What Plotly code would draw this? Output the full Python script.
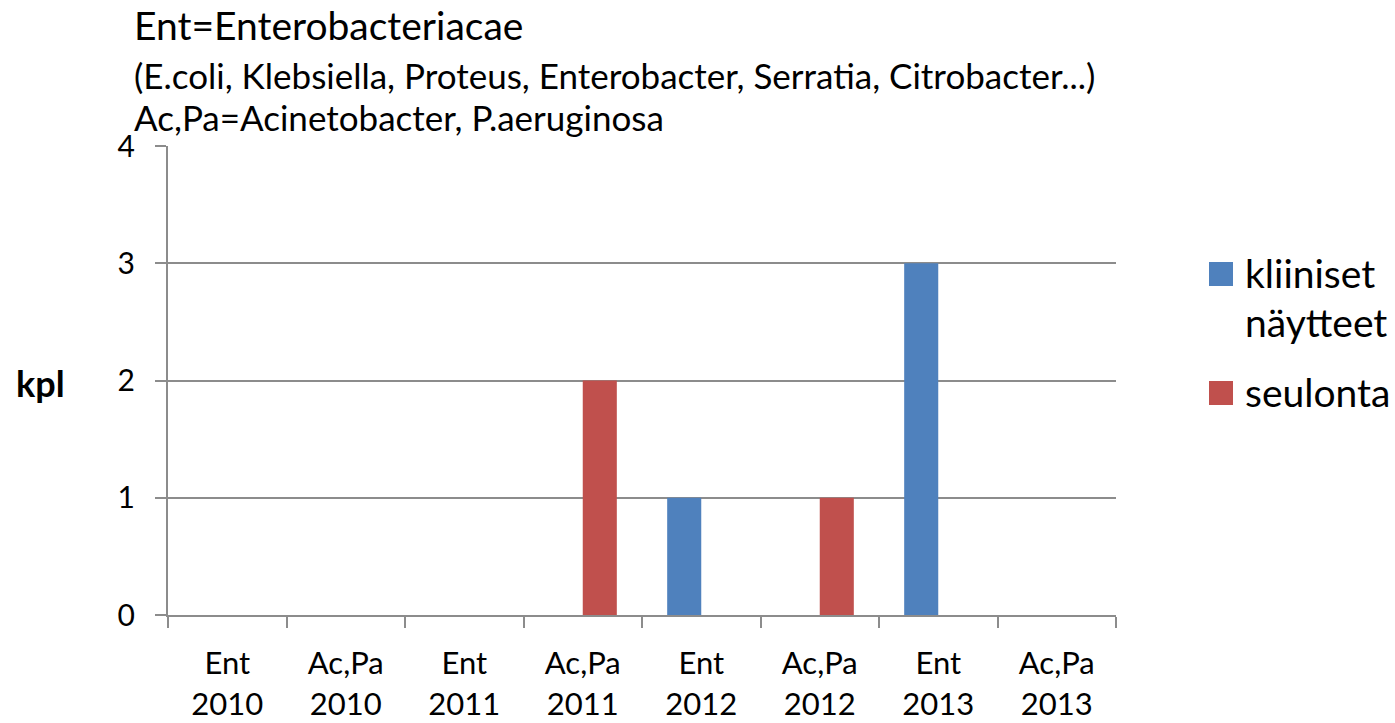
import plotly.graph_objects as go

# Category labels (two-line: group / year)
categories = [
    "Ent<br>2010", "Ac,Pa<br>2010",
    "Ent<br>2011", "Ac,Pa<br>2011",
    "Ent<br>2012", "Ac,Pa<br>2012",
    "Ent<br>2013", "Ac,Pa<br>2013",
]
kliiniset = [0, 0, 0, 0, 1, 0, 3, 0]   # kliiniset näytteet
seulonta = [0, 0, 0, 2, 0, 1, 0, 0]    # seulonta
y_ticks = [0, 1, 2, 3, 4]

BLUE = "#4F81BD"
RED = "#C0504D"
GRID = "#8C8C8C"
FONT = "Lato, 'Open Sans', sans-serif"

W, H = 1395, 723
L, R, T, B = 168, 279, 146, 108
PW, PH = W - L - R, H - T - B


def px_x(px):
    return (px - L) / PW


def px_y(py):
    return (H - B - py) / PH


fig = go.Figure()
fig.add_trace(go.Bar(x=categories, y=kliiniset, name="kliiniset näytteet",
                     marker=dict(color=BLUE, line=dict(width=0))))
fig.add_trace(go.Bar(x=categories, y=seulonta, name="seulonta",
                     marker=dict(color=RED, line=dict(width=0))))

fig.update_layout(
    width=W, height=H,
    margin=dict(l=L, r=R, t=T, b=B, pad=0, autoexpand=False),
    paper_bgcolor="white", plot_bgcolor="white",
    barmode="group", bargap=0.425, bargroupgap=0,
    showlegend=False,
    font=dict(family=FONT, color="black", size=31),
)

fig.update_xaxes(
    type="category", tickson="boundaries", automargin=False,
    showgrid=False, showline=True, linecolor=GRID, linewidth=2,
    ticks="outside", ticklen=11, tickwidth=2, tickcolor=GRID,
    tickfont=dict(size=31, family=FONT), ticklabelstandoff=20,
    range=[-0.5, 7.5],
)
fig.update_yaxes(
    range=[0, 4], tickvals=y_ticks, automargin=False,
    showgrid=True, gridcolor=GRID, gridwidth=2,
    showline=True, linecolor=GRID, linewidth=2,
    zeroline=False,
    ticks="outside", ticklen=11, tickwidth=2, tickcolor=GRID,
    tickfont=dict(size=30, family=FONT), ticklabelstandoff=14,
)

annotations = [
    dict(text="Ent=Enterobacteriacae", x=px_x(132), y=px_y(25), font=dict(size=39)),
    dict(text="(E.coli, Klebsiella, Proteus, Enterobacter, Serratia, Citrobacter...)",
         x=px_x(132), y=px_y(75), font=dict(size=35)),
    dict(text="Ac,Pa=Acinetobacter, P.aeruginosa", x=px_x(132), y=px_y(117), font=dict(size=35)),
    dict(text="kliiniset", x=px_x(1243), y=px_y(273), font=dict(size=39)),
    dict(text="näytteet", x=px_x(1243), y=px_y(322), font=dict(size=39)),
    dict(text="seulonta", x=px_x(1243), y=px_y(392), font=dict(size=39)),
]
for a in annotations:
    fig.add_annotation(xref="paper", yref="paper", xanchor="left", yanchor="middle",
                       showarrow=False, **a)

fig.add_annotation(text="<b>kpl</b>", xref="paper", yref="paper",
                   x=px_x(40), y=px_y(383), xanchor="center", yanchor="middle",
                   showarrow=False, font=dict(size=36))

# Legend swatches
for color, cy in ((BLUE, 274), (RED, 393)):
    fig.add_shape(type="rect", xref="paper", yref="paper",
                  x0=px_x(1209), x1=px_x(1233), y0=px_y(cy - 12), y1=px_y(cy + 12),
                  fillcolor=color, line=dict(width=0))

fig.write_html("out.html")
